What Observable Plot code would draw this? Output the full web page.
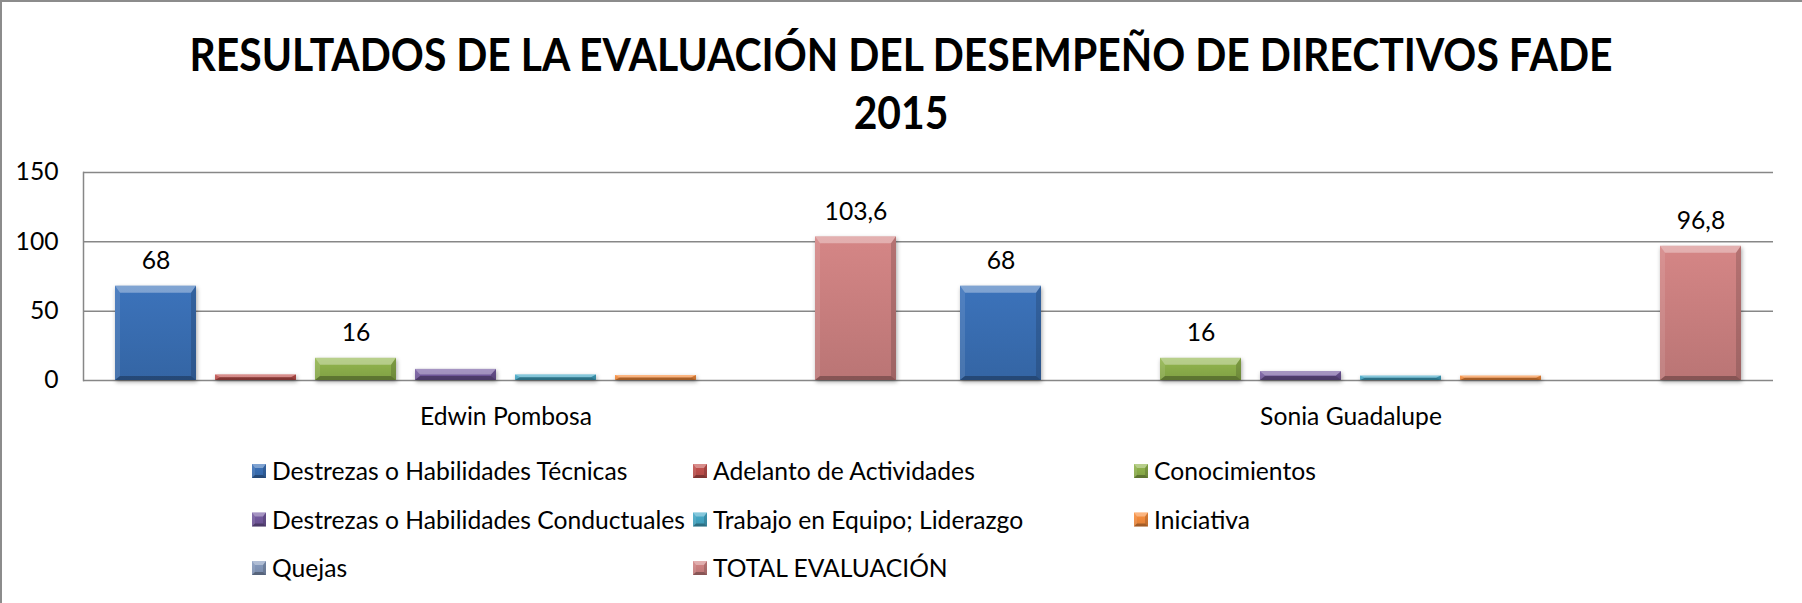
<!DOCTYPE html>
<html><head><meta charset="utf-8">
<script src="https://cdn.jsdelivr.net/npm/d3@7"></script>
<script src="https://cdn.jsdelivr.net/npm/@observablehq/plot@0.6"></script>
<style>
html,body{margin:0;padding:0;background:#fff;}
#page{position:relative;width:1802px;height:603px;overflow:hidden;background:#fff;}
#title{position:absolute;left:0;top:0;}
#chart{position:absolute;left:0;top:150px;}
#legend{position:absolute;left:0;top:440px;}
#frame{position:absolute;left:0;top:0;width:1802px;height:603px;border-top:2px solid #8c8c8c;border-left:2px solid #8c8c8c;box-sizing:border-box;pointer-events:none;}
</style></head>
<body><div id="page"><svg id="title" width="1802" height="150"></svg><div id="chart"></div><svg id="legend" width="1802" height="163"></svg><div id="frame"></div></div>
<script>
// ---- data ----
const titleLines = ["RESULTADOS DE LA EVALUACIÓN DEL DESEMPEÑO DE DIRECTIVOS FADE", "2015"];
const categories = ["Edwin Pombosa", "Sonia Guadalupe"];
const series = [
  "Destrezas o Habilidades Técnicas",
  "Adelanto de Actividades",
  "Conocimientos",
  "Destrezas o Habilidades Conductuales",
  "Trabajo en Equipo; Liderazgo",
  "Iniciativa",
  "Quejas",
  "TOTAL EVALUACIÓN"
];
const edwinValues = [68, 4, 16, 8, 4, 3.6, 0, 103.6];
const soniaValues = [68, 0, 16, 6.4, 3.2, 3.2, 0, 96.8];
const yTicks = [0, 50, 100, 150];
const labeledSeries = ["Destrezas o Habilidades Técnicas", "Conocimientos", "TOTAL EVALUACIÓN"];
const seriesColors = ["#3A70B6", "#C0504D", "#8FB24C", "#74599E", "#44A8C6", "#F68C3C", "#8499BC", "#CF8282"];

// ---- table ----
const data = [];
[edwinValues, soniaValues].forEach((vals, ci) =>
  vals.forEach((v, si) => data.push({category: categories[ci], series: series[si], si, value: v})));

// ---- fonts (fit Lato to the reference text widths) ----
const ctx = document.createElement("canvas").getContext("2d");
function measure(text, weight, px) {
  ctx.font = `${weight} ${px}px Lato`;
  return ctx.measureText(text).width;
}
const fs = 26.67 * 172 / measure("Edwin Pombosa", "normal", 26.67);
const fsTitle = 46;
const titleK = 1423 / measure(titleLines[0], "bold", fsTitle);
const gridColor = "#878787";
const fmt = v => String(v).replace(".", ",");

// ---- gradients ----
const defs = d3.select("#title").append("defs");
seriesColors.forEach((c, i) => {
  const lg = defs.append("linearGradient").attr("id", "grad" + i)
    .attr("x1", 0).attr("y1", 0).attr("x2", 0).attr("y2", 1);
  lg.append("stop").attr("offset", "0%").attr("stop-color", d3.color(c).brighter(0.08).formatHex());
  lg.append("stop").attr("offset", "100%").attr("stop-color", d3.color(c).darker(0.3).formatHex());
});

function addBevel(parent, x, y, w, h, bt, bs, bb) {
  const ns = "http://www.w3.org/2000/svg";
  const t = Math.min(bt, h / 2), s = Math.min(bs, w / 2), b = Math.min(bb, h / 2);
  const polys = [
    [[[x, y], [x + w, y], [x + w - s, y + t], [x + s, y + t]], "#fff", 0.35],
    [[[x, y], [x + s, y + t], [x + s, y + h - b], [x, y + h]], "#fff", 0.1],
    [[[x + w, y], [x + w, y + h], [x + w - s, y + h - b], [x + w - s, y + t]], "#000", 0.15],
    [[[x, y + h], [x + s, y + h - b], [x + w - s, y + h - b], [x + w, y + h]], "#000", 0.28]
  ];
  for (const [pts, f, o] of polys) {
    const p = document.createElementNS(ns, "polygon");
    p.setAttribute("points", pts.map(q => q.join(",")).join(" "));
    p.setAttribute("fill", f);
    p.setAttribute("fill-opacity", o);
    parent.appendChild(p);
  }
}

function bevelRender(index, scales, values, dims, context, next) {
  const g = next(index, scales, values, dims, context);
  Array.from(g.querySelectorAll("rect")).forEach(r => {
    const x = +r.getAttribute("x"), y = +r.getAttribute("y");
    const w = +r.getAttribute("width"), h = +r.getAttribute("height");
    addBevel(r.parentNode, x, y, w, h, 7, 5, 4);
  });
  g.style.filter = "drop-shadow(1px 2px 2px rgba(0,0,0,0.35))";
  return g;
}

// ---- title ----
const tsvg = d3.select("#title");
[71, 129].forEach((base, i) => {
  tsvg.append("text").attr("x", 901).attr("y", base).attr("text-anchor", "middle")
    .attr("font-family", "Lato").attr("font-weight", "bold").attr("font-size", fsTitle)
    .attr("textLength", measure(titleLines[i], "bold", fsTitle) * titleK)
    .attr("lengthAdjust", "spacingAndGlyphs")
    .attr("fill", "#000").text(titleLines[i]);
});

// ---- chart ----
const labels = data.filter(d => labeledSeries.includes(d.series) && d.value > 0);
const plot = Plot.plot({
  width: 1802, height: 290,
  marginTop: 22, marginBottom: 60, marginLeft: 83, marginRight: 29,
  style: {fontFamily: "Lato", fontSize: fs + "px", color: "#000", background: "transparent", overflow: "visible"},
  fx: {domain: categories, padding: 0, label: null},
  x: {domain: series, paddingInner: 0.186, paddingOuter: 0.288, axis: null},
  y: {domain: [0, 150], label: null},
  color: {type: "identity"},
  marks: [
    Plot.gridY(yTicks, {stroke: gridColor, strokeOpacity: 1, strokeWidth: 1.5}),
    Plot.frame({anchor: "left", facetAnchor: "left", stroke: gridColor, strokeWidth: 1.5}),
    Plot.axisY(yTicks, {tickSize: 0, tickPadding: 25, fontSize: fs, tickFormat: d => String(d), label: null}),
    Plot.axisFx({anchor: "bottom", tickSize: 0, tickPadding: 44 - 0.71 * fs, fontSize: fs, label: null}),
    Plot.barY(data.filter(d => d.value > 0), {
      fx: "category", x: "series", y: "value",
      fill: d => `url(#grad${d.si})`, render: bevelRender
    }),
    Plot.text(labels, {
      fx: "category", x: "series", y: "value", text: d => fmt(d.value),
      lineAnchor: "bottom", dy: -17, fontSize: fs, fill: "#000"
    })
  ]
});
document.getElementById("chart").appendChild(plot);

// ---- legend ----
const lsvg = d3.select("#legend");
const legendOrigin = {x: 252, baseline: 40};
const colStep = 441, rowStep = 48.5;
series.forEach((s, i) => {
  const col = i % 3, row = Math.floor(i / 3);
  const x = legendOrigin.x + col * colStep;
  const base = legendOrigin.baseline + row * rowStep;
  const sg = lsvg.append("g");
  sg.append("rect").attr("x", x).attr("y", base - 16).attr("width", 14).attr("height", 14)
    .attr("fill", `url(#grad${i})`);
  addBevel(sg.node(), x, base - 16, 14, 14, 4, 3, 3);
  lsvg.append("text").attr("x", x + 20).attr("y", base)
    .attr("font-family", "Lato").attr("font-size", fs).attr("fill", "#000").text(s);
});
</script>
</body></html>
